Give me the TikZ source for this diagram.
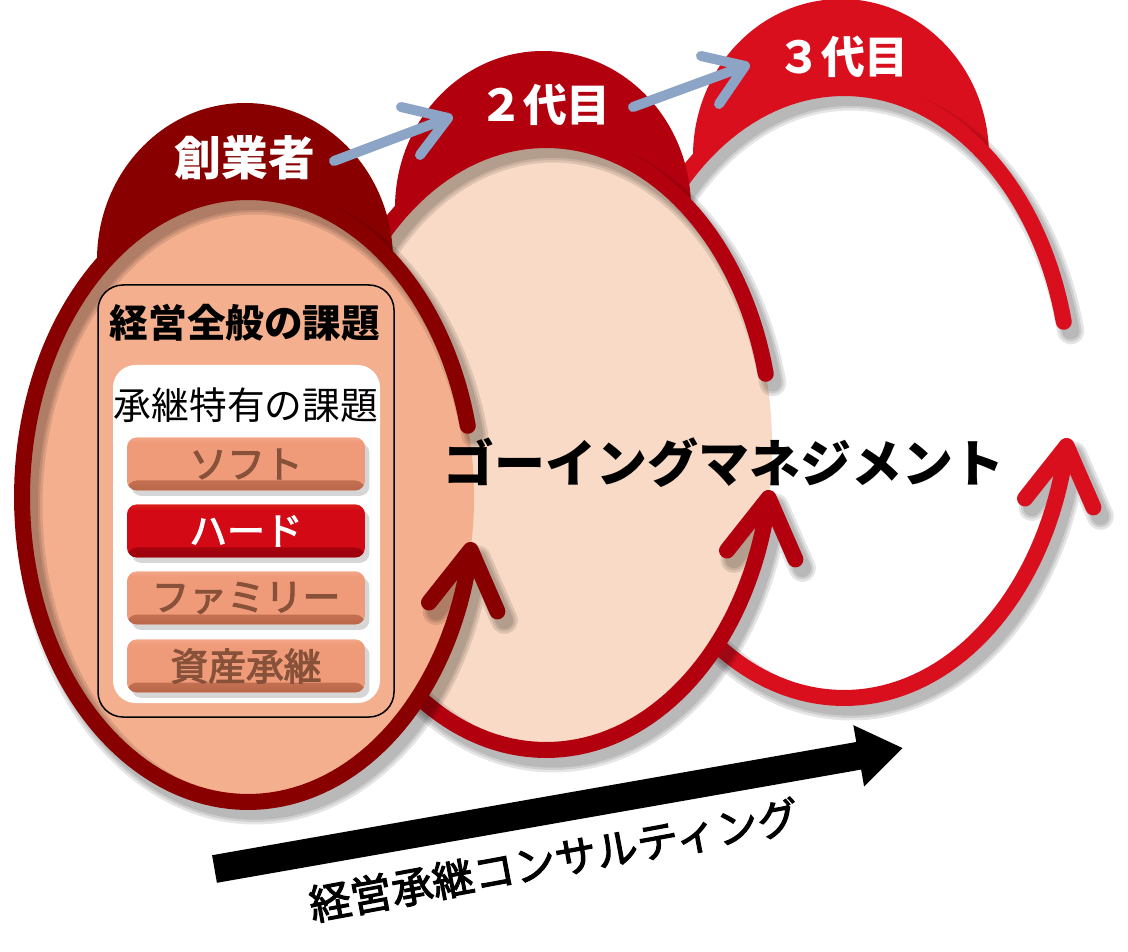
\documentclass[tikz,border=0pt]{standalone}
\usepackage{fontspec}
\setmainfont{Noto Sans CJK JP}
\newcommand{\medtext}[1]{\special{pdf:literal direct 2 Tr 0.6 w}#1\special{pdf:literal direct 0 Tr}}
\usetikzlibrary{arrows.meta}
\definecolor{capA}{HTML}{880000}
\definecolor{capB}{HTML}{B2000F}
\definecolor{capC}{HTML}{D90F1E}
\definecolor{fillA}{HTML}{F3AF8E}
\definecolor{fillB}{HTML}{F9DAC6}
\definecolor{btntop}{HTML}{F3A688}
\definecolor{btnmid}{HTML}{EF9A78}
\definecolor{btnbot}{HTML}{B86549}
\definecolor{btntext}{HTML}{87513A}
\definecolor{hardtop}{HTML}{DA2018}
\definecolor{hardmid}{HTML}{D30A15}
\definecolor{hardbot}{HTML}{9A000C}
\definecolor{arrblue}{HTML}{8CA4C6}

\newcommand{\loopring}[5]{%
\begin{scope}[shift={(#1,#2)}]
\fill[#3] (-3,-237) ellipse [x radius=148, y radius=157];
\fill[#4] (0,0) ellipse [x radius=226, y radius=305];
\foreach \w in {0.54,0.44,0.35}{
  \draw[black, opacity=0.10, line width=\w cm, line cap=round, line join=round, shift={(7,9)}]
    plot[domain=10:346.5, samples=160] ({226*cos(\x)},{305*sin(\x)})
    (181,105.5) -- (222.6,53) -- (249.4,114.4);
}
\draw[#5, line width=0.32cm, line cap=round, line join=round]
  plot[domain=10:346.5, samples=160] ({226*cos(\x)},{305*sin(\x)})
  (181,105.5) -- (222.6,53) -- (249.4,114.4);
\end{scope}}

\tikzset{
  captext/.style={text=white, font=\fontsize{26.6pt}{30pt}\selectfont\bfseries, inner sep=0pt},
  gentext/.style={text=white, font=\fontsize{25pt}{28pt}\selectfont\bfseries, inner sep=0pt},
  bluearrow/.style={draw=arrblue, line width=0.2cm, line cap=round, line join=round},
  btnbox/.style={minimum width=4.76cm, minimum height=1.06cm, rounded corners=0.2cm,
     fill=btnmid, text=btntext,
     font=\fontsize{21.5pt}{24pt}\selectfont, inner sep=0pt,
     preaction={fill=black, opacity=0.16, transform canvas={xshift=0.09cm, yshift=-0.11cm}},
     path picture={
       \shade[top color=btnmid, bottom color=btnbot]
         ([yshift=0.2cm]path picture bounding box.south west) rectangle (path picture bounding box.south east);
       \shade[top color=btntop, bottom color=btnmid]
         (path picture bounding box.north west) rectangle ([yshift=-0.12cm]path picture bounding box.north east);
     }},
  hardbox/.style={btnbox, fill=hardmid, text=white,
     path picture={
       \shade[top color=hardmid, bottom color=hardbot]
         ([yshift=0.2cm]path picture bounding box.south west) rectangle (path picture bounding box.south east);
       \shade[top color=hardtop, bottom color=hardmid]
         (path picture bounding box.north west) rectangle ([yshift=-0.12cm]path picture bounding box.north east);
     }},
}

\begin{document}
\begin{tikzpicture}[x=0.02cm, y=-0.02cm]
\useasboundingbox (0,0) rectangle (1128,952);

\loopring{844}{393}{capC}{white}{capC}
\loopring{546}{445}{capB}{fillB}{capB}
\loopring{248}{497}{capA}{fillA}{capA}

% generation labels
\node[captext] (founder) at (245,158) {創業者};
\node[gentext] (second) at (545,105) {２代目};
\node[gentext] (third) at (843,57) {３代目};

% blue arrows
\coordinate (a1s) at (334,161);
\coordinate (a1t) at (448,118);
\coordinate (a1u) at (401,107);
\coordinate (a1l) at (420,155);
\draw[bluearrow] (a1s) -- (a1t) (a1u) -- (a1t) -- (a1l);
\coordinate (a2s) at (633,107);
\coordinate (a2t) at (745,66);
\coordinate (a2u) at (701,56);
\coordinate (a2l) at (719,104);
\draw[bluearrow] (a2s) -- (a2t) (a2u) -- (a2t) -- (a2l);

% issue box
\draw[black, line width=0.03cm, rounded corners=0.5cm, fill=fillA] (98,285) rectangle (394,717);
\node[font=\fontsize{22pt}{25pt}\selectfont\bfseries, inner sep=0pt] (general) at (245,323) {経営全般の課題};
\fill[white, rounded corners=0.45cm] (113,365) rectangle (380,703);
\node[font=\fontsize{21.5pt}{24pt}\selectfont, inner sep=0pt] (specific) at (246,405) {承継特有の課題};

\node[btnbox] (soft) at (246,464) {\medtext{ソフト}};
\node[hardbox] (hard) at (246,531) {\medtext{ハード}};
\node[btnbox] (family) at (246,598) {\medtext{ファミリー}};
\node[btnbox] (asset) at (246,666) {\medtext{資産承継}};

% central label
\node[font=\fontsize{29pt}{32pt}\selectfont\bfseries, inner sep=0pt] (gm) at (724,463) {ゴーイングマネジメント};

% bottom arrow
\coordinate (bstart) at (214.5,869);
\coordinate (bend) at (903,748);
\draw[black, line width=0.56cm, -{Triangle[length=0.9cm, width=1.18cm]}] (bstart) -- (bend);
\node[rotate=10.5, font=\fontsize{23.7pt}{26pt}\selectfont, inner sep=0pt] (consult) at (554,860) {\medtext{経営承継コンサルティング}};
\end{tikzpicture}
\end{document}
